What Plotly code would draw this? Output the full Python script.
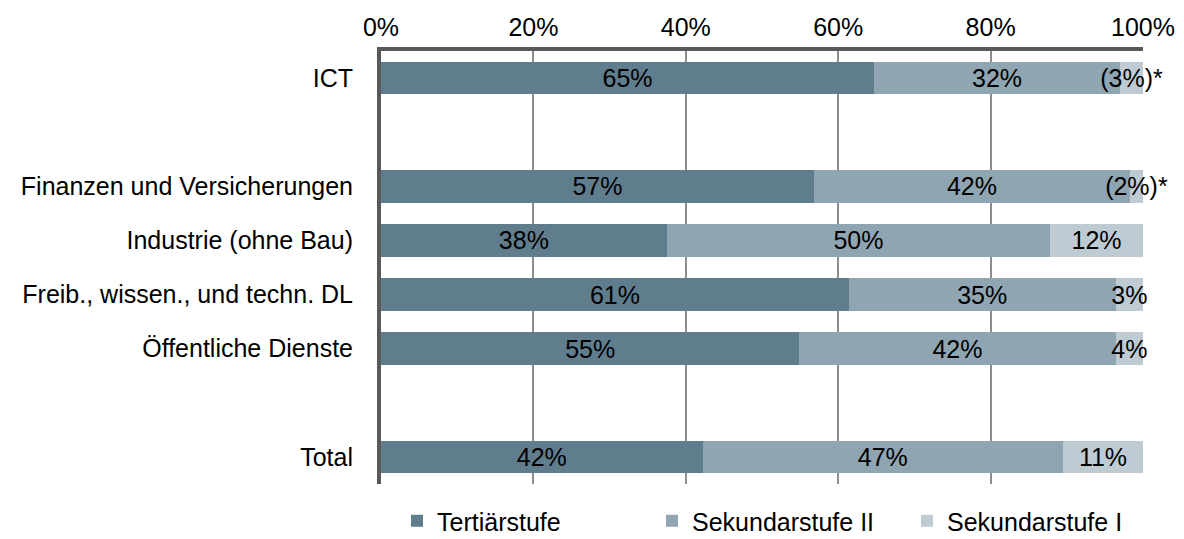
import plotly.graph_objects as go

# rows top to bottom; empty names are spacer rows
categories = ["ICT", "", "Finanzen und Versicherungen", "Industrie (ohne Bau)",
              "Freib., wissen., und techn. DL", "Öffentliche Dienste", "", "Total"]

tertiaer = [64.7, None, 56.8, 37.5, 61.4, 54.9, None, 42.2]
sek2 = [32.3, None, 41.5, 50.3, 35.0, 41.5, None, 47.3]
sek1 = [3.0, None, 1.7, 12.2, 3.6, 3.6, None, 10.5]

tertiaer_lbl = ["65%", "", "57%", "38%", "61%", "55%", "", "42%"]
sek2_lbl = ["32%", "", "42%", "50%", "35%", "42%", "", "47%"]
sek1_lbl = ["(3%)*", "", "(2%)*", "12%", "3%", "4%", "", "11%"]

series = [
    ("Tertiärstufe", tertiaer, tertiaer_lbl, "#607d8e"),
    ("Sekundarstufe II", sek2, sek2_lbl, "#8fa5b1"),
    ("Sekundarstufe I", sek1, sek1_lbl, "#bfcbd3"),
]

rows = list(range(len(categories)))
FONT = "Liberation Sans, Arial, sans-serif"
FS = 25

fig = go.Figure()
for name, vals, lbls, col in series:
    fig.add_trace(go.Bar(
        name=name, y=rows, x=vals, orientation="h",
        marker=dict(color=col, line=dict(width=0)),
        text=lbls, textposition="inside", insidetextanchor="middle",
        textangle=0, textfont=dict(size=FS, color="black", family=FONT),
        cliponaxis=False, width=0.6, hoverinfo="skip",
    ))

fig.update_layout(
    barmode="stack",
    width=1184, height=539,
    # fixed margins: the legend must not shrink the plot area
    margin=dict(l=381, r=41, t=51, b=55, autoexpand=False),
    paper_bgcolor="white", plot_bgcolor="white",
    font=dict(family=FONT, size=FS, color="black"),
    uniformtext=dict(minsize=FS, mode="show"),
    legend=dict(orientation="h", x=0.021, xanchor="left", y=-0.0855, yanchor="middle",
                font=dict(size=FS), traceorder="normal", entrywidth=210),
    showlegend=True,
)

fig.update_xaxes(
    side="top", range=[0, 100], dtick=20, ticksuffix="%",
    showgrid=True, gridcolor="#8c8c8c", gridwidth=1.5,
    showline=True, linecolor="#595959", linewidth=4,
    ticks="", ticklabelstandoff=1, zeroline=False, automargin=False,
)
fig.update_yaxes(
    tickvals=rows, ticktext=categories, range=[7.5, -0.5],
    showline=True, linecolor="#595959", linewidth=4,
    showgrid=False, ticks="", ticklabelstandoff=19, zeroline=False, automargin=False,
)

# drop the default 8px page margin so the figure sits at the window origin
fig.write_html("out.html", config={"displayModeBar": False},
               post_script="document.body.style.margin='0px';")
